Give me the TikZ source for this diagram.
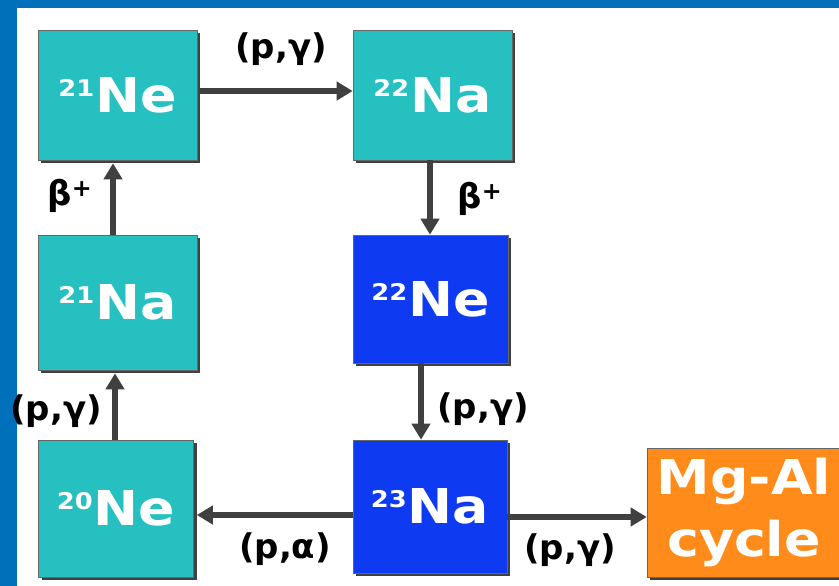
\documentclass[tikz,border=0pt]{standalone}
\usepackage{fontspec}
\setmainfont{DejaVu Sans}
% slightly widened bold face for the box lettering
\newfontfamily\boxfont{DejaVu Sans}[FakeStretch=1.12]
\usetikzlibrary{arrows.meta,shadows,calc}
\definecolor{frameblue}{RGB}{0,112,186}
\definecolor{tealbox}{RGB}{38,192,192}
\definecolor{bluebox}{RGB}{14,58,242}
\definecolor{orangebox}{RGB}{255,140,26}
\definecolor{arrowgray}{RGB}{64,64,64}
\newcommand\iso[2]{\raisebox{0.33em}{\fontsize{23}{23}\selectfont #1}\kern1pt #2}
\tikzset{
  nucl/.style={rectangle, inner sep=0pt, text=white,
    font=\boxfont\bfseries\fontsize{48}{52}\selectfont,
    draw=black!60, line width=0.6pt,
    drop shadow={shadow xshift=3pt, shadow yshift=-3pt, fill=black!75, opacity=1}},
  tealnucl/.style={nucl, fill=tealbox},
  bluenucl/.style={nucl, fill=bluebox},
  cyclebox/.style={nucl, fill=orangebox, align=center,
    font=\boxfont\bfseries\fontsize{48}{62}\selectfont},
  arr/.style={draw=arrowgray, line width=6.5pt,
    -{Triangle[width=18pt,length=16pt]}},
  rlabel/.style={font=\bfseries\fontsize{34}{36}\selectfont, text=black}
}
\begin{document}
\begin{tikzpicture}[x=1pt,y=-1pt]
  % page frame: blue band on top and left
  \useasboundingbox (0,0) rectangle (839,586);
  \fill[frameblue] (0,0) rectangle (839,586);
  \fill[white] (17,8) rectangle (839,586);

  % nuclei
  \node[tealnucl, minimum width=159pt, minimum height=130pt] (ne21) at (117.5,95) {\iso{21}{Ne}};
  \node[tealnucl, minimum width=159pt, minimum height=130pt] (na22) at (432.5,95) {\iso{22}{Na}};
  \node[tealnucl, minimum width=159pt, minimum height=135pt] (na21) at (117.5,302.5) {\iso{21}{Na}};
  \node[bluenucl, minimum width=155pt, minimum height=128pt] (ne22) at (430.5,299) {\iso{22}{Ne}};
  \node[tealnucl, minimum width=155pt, minimum height=137pt] (ne20) at (116,508.5) {\iso{20}{Ne}};
  \node[bluenucl, minimum width=154pt, minimum height=133pt] (na23) at (430,506.5) {\iso{23}{Na}};
  \node[cyclebox, minimum width=194pt, minimum height=129pt] (mgal) at (744,512.5) {Mg-Al\\cycle};

  % reaction arrows
  \draw[arr] ($(ne21.east)+(3,-4)$) -- (na22.west |- 0,91);
  \draw[arr] (na22.south -| 430,0) -- (ne22.north -| 430,0);
  \draw[arr] (ne22.south -| 421,0) -- (na23.north -| 421,0);
  \draw[arr] (na23.west |- 0,515) -- ($(ne20.east |- 0,515)+(3,0)$);
  \draw[arr] (na23.east |- 0,517) -- (mgal.west |- 0,517);
  \draw[arr] (ne20.north -| 115,0) -- ($(na21.south -| 115,0)+(0,3)$);
  \draw[arr] (na21.north -| 113,0) -- ($(ne21.south -| 113,0)+(0,3)$);

  % reaction labels
  \node[rlabel] (l1) at (281,49) {(p,γ)};
  \node[rlabel] (l2) at (480,199) {β\textsuperscript{+}};
  \node[rlabel] (l3) at (483,409) {(p,γ)};
  \node[rlabel] (l4) at (285,549) {(p,α)};
  \node[rlabel] (l5) at (570,550) {(p,γ)};
  \node[rlabel] (l6) at (56,411) {(p,γ)};
  \node[rlabel] (l7) at (70,196) {β\textsuperscript{+}};
\end{tikzpicture}
\end{document}
